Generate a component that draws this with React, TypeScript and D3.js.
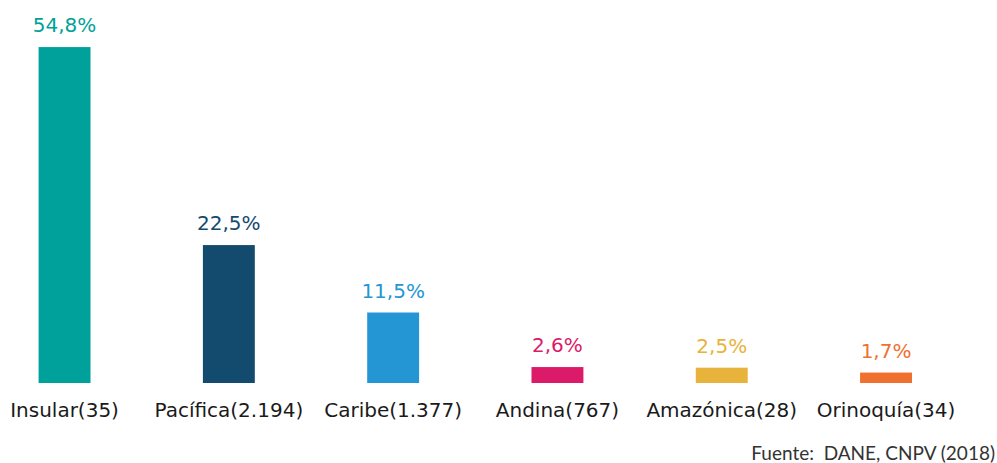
import React from "react";
import * as d3 from "d3";

const categories = [
  "Insular(35)",
  "Pacífica(2.194)",
  "Caribe(1.377)",
  "Andina(767)",
  "Amazónica(28)",
  "Orinoquía(34)",
];
const values = [54.8, 22.5, 11.5, 2.6, 2.5, 1.7];
const colors = ["#00A19A", "#134B6E", "#2596D4", "#DC1A6A", "#E8B33B", "#F07030"];
const source = "Fuente:  DANE, CNPV (2018)";

const width = 997;
const height = 463;
const baseline = 383;

const App = () => {
  const x = d3
    .scaleBand<string>()
    .domain(categories)
    .range([-17.6, 968.2])
    .paddingInner(0.684)
    .paddingOuter(0.342);

  const y = d3.scaleLinear().domain([0, 60]).range([baseline, baseline - 60 * 6.13]);

  const fmt = (v: number) => v.toFixed(1).replace(".", ",") + "%";

  return (
    <svg
      width={width}
      height={height}
      style={{ position: "absolute", left: 0, top: 0, background: "#fff" }}
    >
      {categories.map((c, i) => {
        const cx = (x(c) as number) + x.bandwidth() / 2;
        return (
          <g key={c}>
            <rect
              x={x(c)}
              y={y(values[i])}
              width={x.bandwidth()}
              height={baseline - y(values[i])}
              fill={colors[i]}
            />
            <text
              x={cx}
              y={y(values[i]) - 15}
              textAnchor="middle"
              fontFamily="DejaVu Sans"
              fontSize={20}
              fill={colors[i]}
            >
              {fmt(values[i])}
            </text>
            <text
              x={cx}
              y={417}
              textAnchor="middle"
              fontFamily="DejaVu Sans"
              fontSize={20}
              fill="#1a1a1a"
            >
              {c}
            </text>
          </g>
        );
      })}
      <text
        x={995}
        y={460}
        textAnchor="end"
        fontFamily="Lato"
        fontSize={19}
        fill="#333"
        style={{ whiteSpace: "pre" }}
      >
        {source}
      </text>
    </svg>
  );
};

export default App;
